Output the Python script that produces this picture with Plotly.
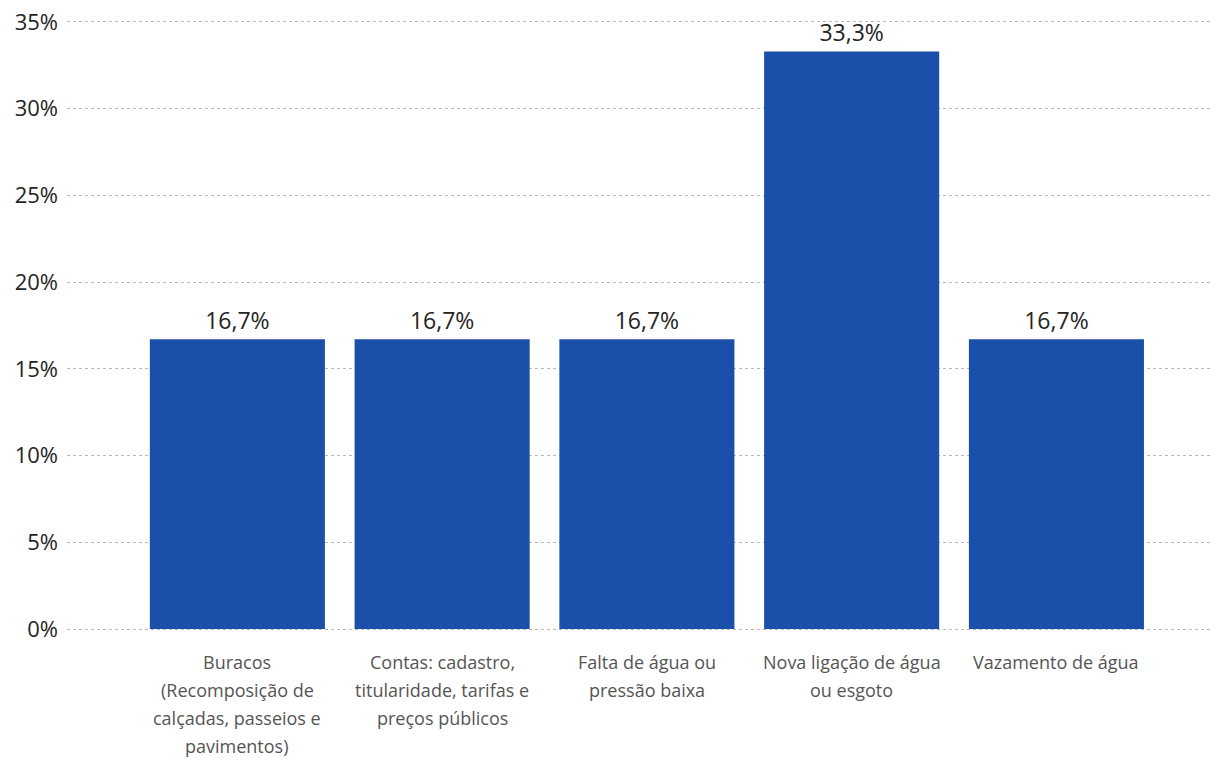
import plotly.graph_objects as go

# Categories (each line of a wrapped label kept separately)
category_lines = [
    ["Buracos", "(Recomposição de", "calçadas, passeios e", "pavimentos)"],
    ["Contas: cadastro,", "titularidade, tarifas e", "preços públicos"],
    ["Falta de água ou", "pressão baixa"],
    ["Nova ligação de água", "ou esgoto"],
    ["Vazamento de água"],
]
categories = [" ".join(lines) for lines in category_lines]
percentages = [16.7, 16.7, 16.7, 33.3, 16.7]
y_ticks = [0, 5, 10, 15, 20, 25, 30, 35]

BAR_COLOR = "#1A4FAA"
FONT = "Segoe UI, Open Sans, sans-serif"

fig = go.Figure(
    go.Bar(
        x=categories,
        y=percentages,
        marker=dict(color=BAR_COLOR, line=dict(width=0)),
        texttemplate="%{y:.1f}%",
        textposition="outside",
        textfont=dict(family=FONT, size=23, color="#252423"),
        cliponaxis=False,
        hoverinfo="skip",
    )
)

# Wrapped category labels, one annotation per line for wider line spacing
annotations = []
for cat, lines in zip(categories, category_lines):
    for i, line in enumerate(lines):
        annotations.append(
            dict(
                x=cat, xref="x", y=0, yref="y",
                text=line, showarrow=False,
                yshift=-(33 + 28 * i), yanchor="middle",
                font=dict(family=FONT, size=18, color="#555555"),
            )
        )

fig.update_layout(
    width=1210,
    height=760,
    margin=dict(l=67, r=0, t=20, b=129),
    paper_bgcolor="white",
    plot_bgcolor="white",
    separators=",.",
    bargap=0.145,
    showlegend=False,
    annotations=annotations,
    xaxis=dict(
        range=[-0.832, 4.75],
        showticklabels=False,
        showgrid=False,
        zeroline=False,
        showline=False,
        ticks="",
    ),
    yaxis=dict(
        # small padding so the 0% and 35% gridlines are drawn
        range=[-0.115, 35.115],
        tickvals=y_ticks,
        ticktext=[f"{v}%" for v in y_ticks],
        tickfont=dict(family=FONT, size=22, color="#252423"),
        showgrid=True,
        gridcolor="#B8B8B8",
        gridwidth=1.2,
        griddash="dot",
        zeroline=False,
        showline=False,
        ticks="",
        ticklabelstandoff=8,
    ),
)

fig.write_html("out.html")
